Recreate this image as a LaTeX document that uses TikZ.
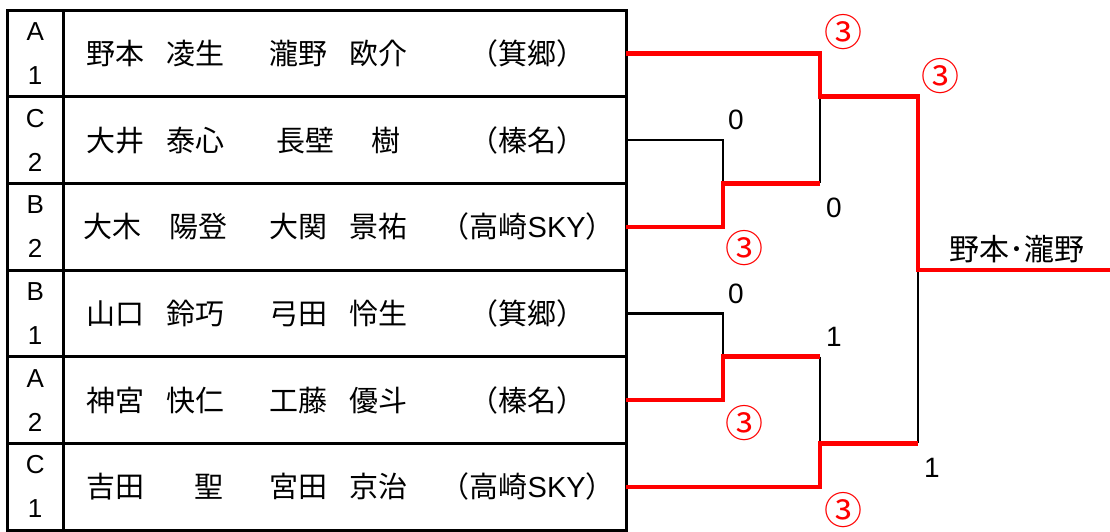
\documentclass[tikz,border=0pt]{standalone}
\usepackage{fontspec}
\setmainfont{Noto Sans CJK JP}
\newfontfamily\latinfont{Liberation Sans}
\usetikzlibrary{matrix}
\newcommand{\seed}[2]{\parbox[c]{50pt}{\centering\latinfont\fontsize{26}{44}\selectfont #1\par #2}}
\newcommand{\pair}[3]{\makebox[184pt]{#1}\makebox[182pt]{#2}\makebox[197pt]{#3}}
\newcommand{\gap}[1][22pt]{\hspace{#1}}
\newcommand{\sky}{{\latinfont SKY}}

\begin{document}
\begin{tikzpicture}[x=1pt,y=-1pt,
    win/.style={draw=red,line width=4.5pt},
    lose/.style={draw=black,line width=2.5pt},
    score/.style={font=\latinfont\fontsize{28}{30}\selectfont},
    games/.style={text=red,font=\fontsize{38}{40}\selectfont}]
  \useasboundingbox (0,0) rectangle (1110,532);
      \matrix [matrix of nodes, anchor=north west, inner sep=0pt,
      nodes={draw, line width=3pt, anchor=center, minimum height=86.67pt, inner sep=0pt, outer sep=0pt,
        font=\fontsize{29}{30}\selectfont},
      column sep=-3pt, row sep=-3pt,
      column 1/.style={nodes={minimum width=56pt}},
      column 2/.style={nodes={minimum width=563pt}}] (m) at (5.5,8.5) {
        \seed{A}{1} & \pair{野本\gap 凌生}{瀧野\gap 欧介}{（箕郷）} \\
        \seed{C}{2} & \pair{大井\gap 泰心}{長壁\gap[37pt]樹}{（榛名）} \\
        \seed{B}{2} & \pair{大木\gap[28pt]陽登}{大関\gap 景祐}{（高崎\sky）} \\
        \seed{B}{1} & \pair{山口\gap 鈴巧}{弓田\gap 怜生}{（箕郷）} \\
        \seed{A}{2} & \pair{神宮\gap 快仁}{工藤\gap 優斗}{（榛名）} \\
        \seed{C}{1} & \pair{吉田\gap[50pt]聖}{宮田\gap 京治}{（高崎\sky）} \\
      };
  \coordinate (s1) at (723,183.3);
  \coordinate (s2) at (723,356.7);
  \coordinate (q1) at (820,96.7);
  \coordinate (q2) at (820,443.3);
  \coordinate (f) at (918,270);
  \coordinate (champ) at (1110,270);
  \draw[lose] (m-2-2.east) -| (s1);
  \draw[lose] (m-4-2.east) -| (s2);
  \draw[lose] (s1 -| q1) -- (q1);
  \draw[lose] (s2 -| q2) -- (q2);
  \draw[lose] (f) -- (q2 -| f);
  \draw[win] (m-3-2.east) -| (s1) -- (s1 -| q1);
  \draw[win] (m-5-2.east) -| (s2) -- (s2 -| q2);
  \draw[win] (m-1-2.east) -| (q1) -| (f) -- (champ);
  \draw[win] (m-6-2.east) -| (q2) -- (q2 -| f);
  \node[games] (g1) at (843,32) {③};
  \node[games] (g2) at (940,76) {③};
  \node[score] (p1) at (736,120) {0};
  \node[score] (p2) at (834,208) {0};
  \node[games] (g3) at (744,248) {③};
  \node[font=\fontsize{30}{32}\selectfont] (winner) at (1017,249) {野本･瀧野};
  \node[score] (p3) at (736,294) {0};
  \node[score] (p4) at (834,337) {1};
  \node[games] (g4) at (744,423) {③};
  \node[score] (p5) at (932,468) {1};
  \node[games] (g5) at (843,510) {③};
\end{tikzpicture}
\end{document}
